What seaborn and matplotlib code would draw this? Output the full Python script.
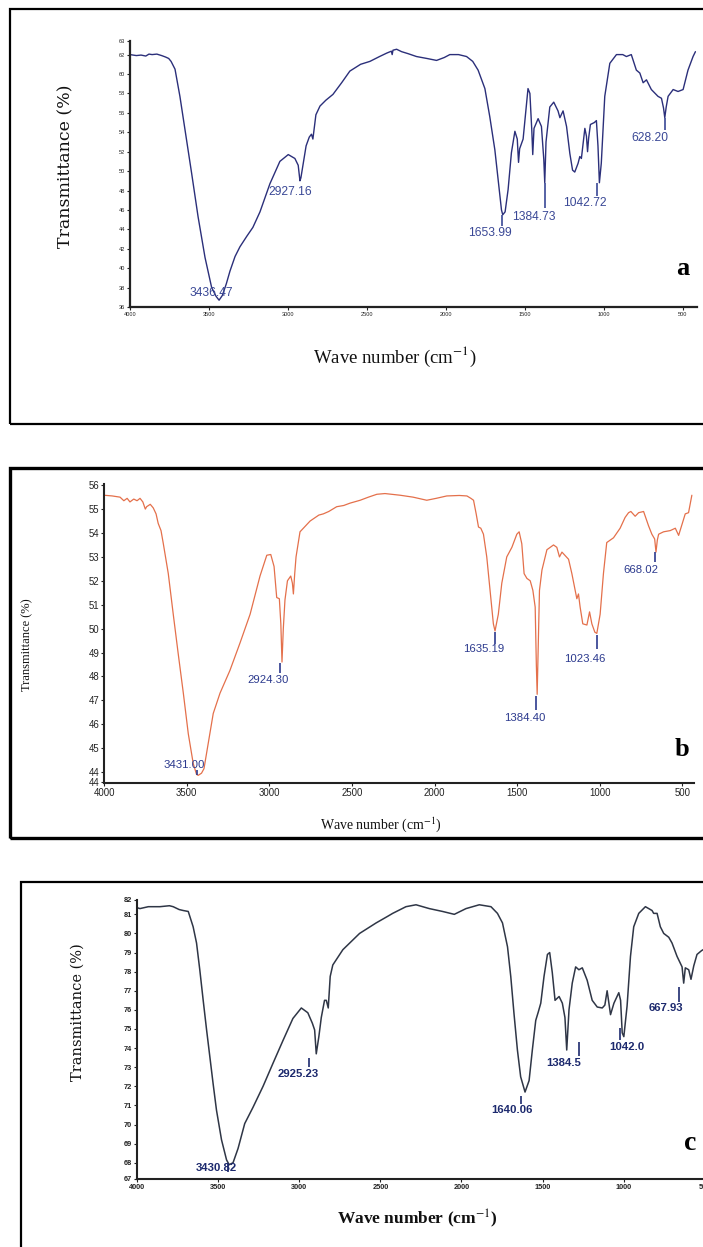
import matplotlib
matplotlib.use("Agg")
import matplotlib.pyplot as plt
import seaborn as sns
import pandas as pd
from matplotlib.patches import Rectangle
from matplotlib import font_manager

# ---------------- data ----------------
x_ticks = [4000, 3500, 3000, 2500, 2000, 1500, 1000, 500]
x_tick_labels = ["4000", "3500", "3000", "2500", "2000", "1500", "1000", "500"]

# panel a
a_wn = [4000, 3960, 3930, 3900, 3880, 3860, 3830, 3800, 3775, 3755, 3740, 3715, 3684, 3652, 3610, 3569,
        3525, 3483, 3455, 3436, 3415, 3390, 3367, 3335, 3304, 3260, 3222, 3177, 3114, 3051, 2998, 2956,
        2935, 2924, 2918, 2905, 2885, 2865, 2851, 2842, 2832, 2823, 2797, 2760, 2715, 2660, 2608, 2540,
        2481, 2420, 2375, 2345, 2340, 2335, 2312, 2280, 2240, 2186, 2120, 2059, 2010, 1975, 1920, 1869,
        1830, 1796, 1753, 1722, 1690, 1669, 1648, 1640, 1625, 1606, 1585, 1563, 1548, 1540, 1533, 1511,
        1495, 1480, 1468, 1456, 1450, 1442, 1416, 1395, 1380, 1374, 1366, 1342, 1317, 1290, 1278, 1258,
        1236, 1215, 1198, 1184, 1163, 1152, 1142, 1120, 1110, 1103, 1096, 1085, 1060, 1047, 1037, 1028,
        1016, 994, 962, 920, 880, 857, 826, 794, 772, 751, 730, 699, 657, 635, 622, 614, 605, 593, 561,
        530, 498, 467, 435, 420]
a_t = [62.0, 61.9, 61.95, 61.85, 62.05, 62.0, 62.05, 61.9, 61.75, 61.6, 61.3, 60.5, 57.7, 54.3, 49.8, 45.3,
       41.1, 38.0, 37.1, 36.7, 37.2, 38.4, 39.7, 41.2, 42.2, 43.3, 44.2, 45.8, 48.7, 51.0, 51.7, 51.3,
       50.6, 49.0, 49.3, 50.6, 52.6, 53.5, 53.8, 53.3, 54.6, 55.8, 56.7, 57.3, 57.9, 59.1, 60.3, 61.0,
       61.3, 61.8, 62.15, 62.35, 62.0, 62.45, 62.55, 62.3, 62.1, 61.8, 61.6, 61.4, 61.7, 62.0, 62.0, 61.8,
       61.3, 60.4, 58.5, 55.6, 52.2, 49.1, 46.0, 45.5, 45.8, 48.1, 51.9, 54.1, 53.3, 50.9, 52.3, 53.3,
       56.0, 58.5, 58.0, 54.2, 51.7, 54.4, 55.4, 54.6, 51.2, 48.8, 53.0, 56.6, 57.1, 56.2, 55.5, 56.2,
       54.6, 51.8, 50.1, 49.9, 50.8, 51.5, 51.3, 54.4, 53.6, 52.0, 53.4, 54.8, 55.0, 55.2, 52.6, 48.8,
       50.8, 57.7, 61.1, 62.0, 62.0, 61.8, 62.0, 60.4, 60.1, 59.1, 59.4, 58.4, 57.7, 57.5, 56.5, 55.5,
       56.6, 57.7, 58.4, 58.2, 58.4, 60.4, 61.8, 62.3]
a_yticks = [36, 38, 40, 42, 44, 46, 48, 50, 52, 54, 56, 58, 60, 62, 63.4]
a_ytick_labels = ["36", "38", "40", "42", "44", "46", "48", "50", "52", "54", "56", "58", "60", "62", "63"]
a_labels = ["3436.47", "2927.16", "1653.99", "1384.73", "1042.72", "628.20"]
a_label_x = [3483, 2983, 1724, 1445, 1117, 709]
a_label_y = [37.4, 47.8, 43.6, 45.3, 46.7, 53.4]
a_mark_x = [1644, 1373, 1043, 614]
a_mark_top = [45.5, 48.75, 48.75, 55.45]
a_mark_bot = [44.3, 46.2, 47.4, 54.25]

# panel b
b_wn = [4000, 3950, 3903, 3880, 3860, 3843, 3820, 3800, 3782, 3765, 3750, 3742, 3720, 3702, 3685, 3672,
        3655, 3641, 3611, 3581, 3551, 3520, 3490, 3460, 3440, 3430, 3410, 3395, 3369, 3339, 3298, 3238,
        3177, 3116, 3056, 3015, 2991, 2971, 2955, 2939, 2930, 2923, 2915, 2905, 2890, 2870, 2860, 2854,
        2846, 2838, 2814, 2753, 2700, 2673, 2640, 2592, 2550, 2511, 2450, 2400, 2349, 2300, 2208, 2130,
        2047, 1990, 1926, 1850, 1804, 1780, 1764, 1748, 1734, 1720, 1704, 1684, 1664, 1644, 1634, 1614,
        1593, 1563, 1532, 1502, 1488, 1472, 1458, 1441, 1421, 1405, 1391, 1384, 1379, 1372, 1365, 1350,
        1320, 1280, 1260, 1244, 1229, 1189, 1169, 1149, 1139, 1129, 1119, 1103, 1078, 1062, 1048, 1030,
        1018, 998, 978, 958, 917, 877, 847, 826, 812, 786, 765, 735, 705, 685, 668, 660, 652, 644, 614,
        574, 543, 523, 503, 483, 463, 443]
b_t = [55.58, 55.55, 55.5, 55.35, 55.45, 55.3, 55.42, 55.35, 55.45, 55.3, 55.0, 55.1, 55.2, 55.05, 54.8, 54.4,
       54.1, 53.55, 52.3, 50.6, 48.95, 47.3, 45.6, 44.35, 43.9, 43.86, 43.95, 44.14, 45.2, 46.45, 47.3, 48.25,
       49.4, 50.6, 52.2, 53.07, 53.1, 52.6, 51.3, 51.25, 50.2, 48.6, 50.0, 51.2, 52.0, 52.2, 51.9, 51.45,
       52.3, 53.0, 54.05, 54.5, 54.75, 54.8, 54.9, 55.1, 55.15, 55.25, 55.37, 55.5, 55.62, 55.65, 55.58, 55.5,
       55.37, 55.45, 55.55, 55.57, 55.55, 55.45, 55.37, 54.8, 54.25, 54.2, 53.95, 53.0, 51.6, 50.2, 49.9, 50.6,
       51.9, 53.0, 53.4, 53.95, 54.05, 53.55, 52.3, 52.1, 52.0, 51.6, 50.9, 48.5, 47.25, 49.5, 51.6, 52.45,
       53.3, 53.5, 53.4, 53.0, 53.2, 52.9, 52.3, 51.6, 51.25, 51.45, 50.9, 50.2, 50.15, 50.7, 50.2, 49.85,
       49.8, 50.6, 52.3, 53.6, 53.8, 54.2, 54.65, 54.85, 54.9, 54.7, 54.85, 54.9, 54.3, 53.95, 53.75, 53.2,
       53.7, 53.95, 54.05, 54.1, 54.2, 53.9, 54.35, 54.8, 54.85, 55.58]
b_yticks = [43.6, 44, 45, 46, 47, 48, 49, 50, 51, 52, 53, 54, 55, 56]
b_ytick_labels = ["44", "44", "45", "46", "47", "48", "49", "50", "51", "52", "53", "54", "55", "56"]
b_labels = ["3431.00", "2924.30", "1635.19", "1384.40", "1023.46", "668.02"]
b_label_x = [3516, 3008, 1704, 1454, 1089, 749]
b_label_y = [44.28, 47.87, 49.16, 46.28, 48.74, 52.47]
b_mark_x = [3439, 2935, 1634, 1385, 1018, 665]
b_mark_top = [44.07, 48.56, 49.86, 47.2, 49.72, 53.2]
b_mark_bot = [43.86, 48.14, 49.37, 46.6, 49.16, 52.8]

# panel c
c_wn = [4000, 3982, 3930, 3859, 3800, 3777, 3740, 3715, 3684, 3654, 3633, 3613, 3592, 3571, 3551, 3531,
        3510, 3479, 3448, 3432, 3408, 3377, 3336, 3285, 3223, 3162, 3100, 3039, 2987, 2947, 2919, 2905,
        2895, 2879, 2864, 2844, 2833, 2821, 2809, 2793, 2731, 2628, 2526, 2454, 2424, 2342, 2280, 2198,
        2116, 2044, 1972, 1890, 1818, 1778, 1747, 1716, 1696, 1676, 1655, 1635, 1608, 1583, 1563, 1542,
        1526, 1511, 1491, 1470, 1456, 1440, 1423, 1398, 1378, 1362, 1351, 1337, 1317, 1296, 1276, 1255,
        1225, 1194, 1163, 1132, 1116, 1102, 1091, 1081, 1060, 1030, 1019, 1009, 999, 979, 958, 938, 907,
        866, 825, 815, 794, 774, 753, 722, 702, 671, 640, 630, 620, 599, 585, 568, 548, 520, 480]
c_t = [81.35, 81.3, 81.4, 81.4, 81.45, 81.4, 81.25, 81.2, 81.15, 80.35, 79.5, 78.1, 76.5, 74.95, 73.55, 72.15,
       70.75, 69.2, 68.15, 67.9, 68.0, 68.75, 70.05, 70.9, 72.0, 73.2, 74.4, 75.55, 76.1, 75.85, 75.3, 74.95,
       73.7, 74.6, 75.6, 76.5, 76.5, 76.1, 77.75, 78.35, 79.15, 80.0, 80.55, 80.9, 81.05, 81.4, 81.5, 81.3,
       81.15, 81.0, 81.3, 81.5, 81.4, 81.05, 80.55, 79.3, 77.75, 75.8, 73.9, 72.5, 71.7, 72.3, 73.9, 75.45,
       75.9, 76.35, 77.75, 78.9, 79.0, 77.95, 76.5, 76.7, 76.35, 75.6, 73.9, 76.0, 77.4, 78.25, 78.1, 78.2,
       77.55, 76.5, 76.15, 76.1, 76.25, 77.0, 76.35, 75.75, 76.35, 76.9, 76.5, 74.8, 74.6, 76.2, 78.8, 80.35, 81.05,
       81.4, 81.2, 81.05, 81.05, 80.35, 80.0, 79.8, 79.5, 78.8, 78.25, 77.4, 78.2, 78.1, 77.6, 78.3, 78.9, 79.1, 79.3]
c_yticks = [67.15, 68, 69, 70, 71, 72, 73, 74, 75, 76, 77, 78, 79, 80, 81, 81.75]
c_ytick_labels = ["67", "68", "69", "70", "71", "72", "73", "74", "75", "76", "77", "78", "79", "80", "81", "82"]
c_labels = ["3430.82", "2925.23", "1640.06", "1384.5", "1042.0", "667.93"]
c_label_x = [3510, 3004, 1689, 1370, 980, 739]
c_label_y = [67.7, 72.63, 70.76, 73.2, 74.04, 76.08]
c_mark_x = [3438, 2940, 1634, 1276, 1024, 660]
c_mark_top = [67.98, 73.47, 71.5, 74.3, 75.04, 77.2]
c_mark_bot = [67.53, 73.0, 71.1, 73.6, 74.42, 76.4]

# ---------------- style ----------------
sns.set_theme(style="ticks")
available = {f.name for f in font_manager.fontManager.ttflist}
HAS_NARROW = "Liberation Sans Narrow" in available
NARROW = "Liberation Sans Narrow" if HAS_NARROW else "Liberation Sans"
SERIF = "Liberation Serif"
plt.rcParams["font.family"] = [NARROW, "DejaVu Sans"]
plt.rcParams["mathtext.fontset"] = "stix"


def nfs(size):
    return size if HAS_NARROW else size * 0.82


W, H = 703, 1247
fig = plt.figure(figsize=(W / 100, H / 100), dpi=100, facecolor="white")


def fx(px):
    return px / W


def fy(py):
    return 1 - py / H


def frame(left, top, right, bottom, lw):
    fig.add_artist(Rectangle((fx(left), fy(bottom)), (right - left) / W, (bottom - top) / H,
                             transform=fig.transFigure, fill=False, edgecolor="black",
                             linewidth=lw, zorder=0))


def panel(box, wn, t, color, lw, xlim, ylim, yticks, yticklabels, tick_fs, tick_weight,
          spine_lw, labels, lx, ly, mx, mtop, mbot, ann_color, ann_fs, ann_weight):
    left, top, right, bottom = box
    ax = fig.add_axes([fx(left), fy(bottom), (right - left) / W, (bottom - top) / H])
    ax.set_facecolor("none")
    df = pd.DataFrame({"wn": wn, "T": t})
    sns.lineplot(data=df, x="wn", y="T", ax=ax, color=color, linewidth=lw,
                 sort=False, estimator=None)
    ax.set_xlim(*xlim)
    ax.set_ylim(*ylim)
    ax.set_xticks(x_ticks)
    ax.set_xticklabels(x_tick_labels)
    ax.set_yticks(yticks)
    ax.set_yticklabels(yticklabels)
    ax.set_xlabel("")
    ax.set_ylabel("")
    sns.despine(ax=ax)
    for s in ("left", "bottom"):
        ax.spines[s].set_linewidth(spine_lw)
        ax.spines[s].set_color("#222222")
    ax.tick_params(axis="both", direction="out", length=2.5, width=0.8, pad=1,
                   labelsize=tick_fs, colors="#222222")
    for lab in ax.get_xticklabels() + ax.get_yticklabels():
        lab.set_fontweight(tick_weight)
    ax.vlines(mx, mbot, mtop, color=ann_color, linewidth=1.2)
    for s, x, y in zip(labels, lx, ly):
        ax.text(x, y, s, ha="center", va="center", color=ann_color,
                fontsize=ann_fs, fontweight=ann_weight)
    return ax


# frames
frame(10, 9, 730, 424, 1.6)
frame(10, 468, 730, 838, 2.4)
frame(21, 882, 730, 1275, 1.6)

# panel a
panel((130, 41, 697, 307), a_wn, a_t, "#2b2f7a", 1.0, (4000, 410), (36.0, 63.4),
      a_yticks, a_ytick_labels, nfs(5), "normal", 1.6,
      a_labels, a_label_x, a_label_y, a_mark_x, a_mark_top, a_mark_bot,
      "#3a4896", nfs(10.5), "normal")
fig.text(fx(66), fy(166), "Transmittance (%)", rotation=90, ha="center", va="center",
         family="DejaVu Serif", fontsize=12.5, color="#111111")
fig.text(fx(395), fy(357), r"Wave number (cm$^{\mathrm{-1}}$)", ha="center", va="center",
         family=SERIF, fontsize=13.5, color="#111111")
fig.text(fx(683), fy(268), "a", ha="center", va="center", family=SERIF,
         fontsize=19, fontweight="bold", color="black")

# panel b
panel((104, 484, 694, 783), b_wn, b_t, "#e4704b", 0.9, (4000, 430), (43.54, 56.05),
      b_yticks, b_ytick_labels, nfs(8.5), "normal", 1.5,
      b_labels, b_label_x, b_label_y, b_mark_x, b_mark_top, b_mark_bot,
      "#2c3a8e", nfs(10), "normal")
fig.text(fx(27), fy(645), "Transmittance (%)", rotation=90, ha="center", va="center",
         family=SERIF, fontsize=9, color="#111111")
fig.text(fx(381), fy(825), r"Wave number (cm$^{\mathrm{-1}}$)", ha="center", va="center",
         family=SERIF, fontsize=10, color="#111111")
fig.text(fx(682), fy(750), "b", ha="center", va="center", family=SERIF,
         fontsize=19, fontweight="bold", color="black")

# panel c
panel((137, 900, 721, 1179), c_wn, c_t, "#2f3646", 1.1, (4000, 400), (67.15, 81.75),
      c_yticks, c_ytick_labels, nfs(6.5), "bold", 1.5,
      c_labels, c_label_x, c_label_y, c_mark_x, c_mark_top, c_mark_bot,
      "#1d2a6e", nfs(10), "bold")
fig.text(fx(78), fy(1012), "Transmittance (%)", rotation=90, ha="center", va="center",
         family="DejaVu Serif", fontsize=10.5, color="#111111")
fig.text(fx(417), fy(1219), r"Wave number (cm$^{\mathrm{-1}}$)", ha="center", va="center",
         family=SERIF, fontsize=12.5, fontweight="bold", color="#111111")
fig.text(fx(690), fy(1143), "c", ha="center", va="center", family=SERIF,
         fontsize=20, fontweight="bold", color="black")

fig.savefig("out.png", dpi=100, facecolor="white")
